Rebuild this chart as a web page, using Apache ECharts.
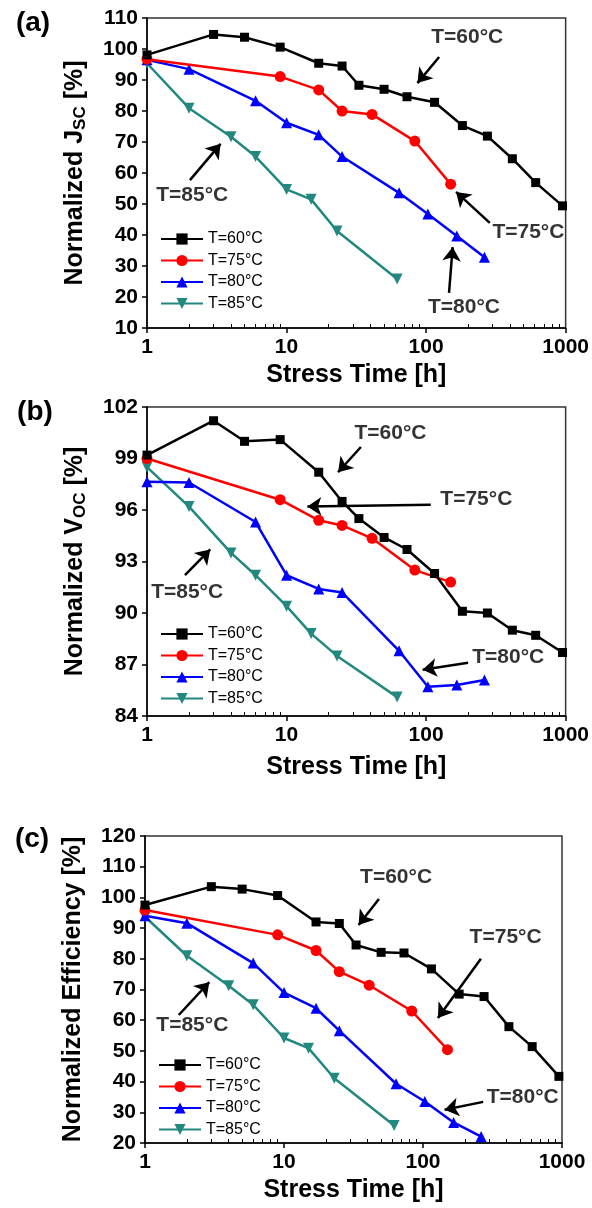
<!DOCTYPE html>
<html>
<head>
<meta charset="utf-8">
<script src="https://cdn.jsdelivr.net/npm/echarts@6.0.0/dist/echarts.min.js"></script>
<style>
html, body { margin: 0; padding: 0; background: #fff; }
#chart { width: 592px; height: 1208px; }
</style>
</head>
<body>
<div id="chart"></div>
<script>
// 测量时间 (h)
const t60 = [1, 3, 5, 9, 17, 25, 33, 50, 73, 115, 182, 275, 415, 610, 950];
const t75 = [1, 9, 17, 25, 41, 83, 150];
const t80 = [1, 2, 6, 10, 17, 25, 64, 103, 166, 262];
const t85 = [1, 2, 4, 6, 10, 15, 23, 62];

// (a) Jsc
const jsc60 = [98.1, 104.7, 103.8, 100.6, 95.4, 94.5, 88.3, 87, 84.6, 82.8, 75.3, 71.9, 64.6, 56.9, 49.4];
const jsc75 = [96.7, 91.1, 86.8, 80, 78.9, 70.3, 56.4];
const jsc80 = [96.5, 93.5, 83.3, 76.2, 72.3, 65.3, 53.6, 46.8, 39.7, 32.8];
const jsc85 = [95.4, 80.9, 71.7, 65.3, 54.7, 51.5, 41.3, 25.8];

// (b) Voc
const voc60 = [99.2, 101.2, 100.0, 100.1, 98.2, 96.5, 95.5, 94.4, 93.7, 92.3, 90.1, 90.0, 89.0, 88.7, 87.7];
const voc75 = [99.0, 96.6, 95.4, 95.1, 94.35, 92.5, 91.8];
const voc80 = [97.65, 97.6, 95.3, 92.2, 91.4, 91.2, 87.8, 85.7, 85.8, 86.1];
const voc85 = [98.5, 96.2, 93.5, 92.2, 90.4, 88.8, 87.5, 85.1];

// (c) Efficiency
const eff60 = [97.5, 103.5, 102.7, 100.6, 92.0, 91.5, 84.5, 82.1, 81.9, 76.7, 68.5, 67.7, 57.9, 51.4, 41.7];
const eff75 = [95.9, 87.8, 82.7, 75.8, 71.4, 63.0, 50.4];
const eff80 = [94.0, 91.6, 78.6, 69.0, 63.9, 56.6, 39.3, 33.5, 26.7, 22.1];
const eff85 = [93.7, 81.0, 71.2, 65.0, 54.2, 50.9, 41.1, 25.7];

const names = ['T=60°C', 'T=75°C', 'T=80°C', 'T=85°C'];
const xTickLabels = [1, 10, 100, 1000];
const minorTicks = [2, 3, 4, 5, 6, 7, 8, 9, 20, 30, 40, 50, 60, 70, 80, 90, 200, 300, 400, 500, 600, 700, 800, 900];

// 标注: 文字位置 + 箭头 (数据坐标)
const notesA = [
    { text: 'T=60°C', at: [197, 103.9], from: [124, 97.4], to: [86.7, 89.0] },
    { text: 'T=85°C', at: [2.11, 52.9], from: [2.03, 57.7], to: [3.37, 69.4] },
    { text: 'T=75°C', at: [541, 41], from: [286, 43.9], to: [164, 53.9] },
    { text: 'T=80°C', at: [187, 16.8], from: [146, 21.3], to: [155, 36.1] }
];
const notesB = [
    { text: 'T=60°C', at: [55.6, 100.5], from: [34.1, 99.67], to: [23.4, 98.2] },
    { text: 'T=75°C', at: [229, 96.6], from: [108, 96.3], to: [14.1, 96.2] },
    { text: 'T=85°C', at: [1.94, 91.2], from: [1.87, 92.2], to: [2.84, 93.7] },
    { text: 'T=80°C', at: [388, 87.4], from: [200, 87.1], to: [94.4, 86.7] }
];
const notesC = [
    { text: 'T=60°C', at: [64, 106.6], from: [48.2, 99.5], to: [34.4, 91.0] },
    { text: 'T=75°C', at: [393, 87.1], from: [261, 80], to: [128, 60.7] },
    { text: 'T=85°C', at: [2.19, 58.4], from: [1.75, 61.7], to: [2.9, 72.4] },
    { text: 'T=80°C', at: [522, 35], from: [271, 33.4], to: [143, 30.8] }
];

const FONT = '"Liberation Sans", Arial, sans-serif';
const colors = ['#000000', '#ff0000', '#0000ff', '#23887f'];
const symbols = ['rect', 'circle', 'triangle', 'triangle'];
const symbolSizes = [9, 11, 11, 11];
const symbolRotates = [0, 0, 0, 180];

const panels = [
    {
        times: [t60, t75, t80, t85], values: [jsc60, jsc75, jsc80, jsc85], notes: notesA,
        grid: { left: 147, right: 26, top: 18, height: 310 },
        yMin: 10, yMax: 110, yStep: 10, yName: '{t|Normalized J}{s|SC}{t| [%]}',
        legendTop: 225, legendLeft: 155, xNameGap: 35, tag: '(a)', tagPos: [33, 23]
    },
    {
        times: [t60, t75, t80, t85], values: [voc60, voc75, voc80, voc85], notes: notesB,
        grid: { left: 147, right: 26, top: 407, height: 309 },
        yMin: 84, yMax: 102, yStep: 3, yName: '{t|Normalized V}{s|OC}{t| [%]}',
        legendTop: 620, legendLeft: 155, xNameGap: 39, tag: '(b)', tagPos: [35, 412]
    },
    {
        times: [t60, t75, t80, t85], values: [eff60, eff75, eff80, eff85], notes: notesC,
        grid: { left: 145, right: 30, top: 836, height: 307 },
        yMin: 20, yMax: 120, yStep: 10, yName: '{t|Normalized Efficiency [%]}',
        legendTop: 1051, legendLeft: 153, xNameGap: 35, tag: '(c)', tagPos: [32, 839]
    }
];

const grids = [], xAxes = [], yAxes = [], series = [], legends = [], graphics = [];

panels.forEach((p, i) => {
    grids.push(Object.assign({ show: true, borderColor: '#333', borderWidth: 1.5 }, p.grid));

    // 主 x 轴 (对数)
    xAxes.push({
        gridIndex: i, type: 'log', logBase: 10, min: 1, max: 1000, position: 'bottom',
        name: 'Stress Time [h]', nameLocation: 'middle', nameGap: p.xNameGap,
        nameTextStyle: { fontSize: 25, fontWeight: 'bold', color: '#000', fontFamily: FONT },
        axisLine: { lineStyle: { color: '#000', width: 1.5 } },
        axisTick: { length: 5, lineStyle: { color: '#000', width: 1.5 } },
        axisLabel: {
            fontSize: 21, fontWeight: 'bold', color: '#000', fontFamily: FONT, margin: 9,
            customValues: xTickLabels, formatter: v => String(v)
        },
        splitLine: { show: false }
    });
    // 次刻度
    xAxes.push({
        gridIndex: i, type: 'log', logBase: 10, min: 1, max: 1000, position: 'bottom',
        axisLine: { show: false }, axisLabel: { show: false }, splitLine: { show: false },
        axisTick: { inside: true, length: 4, customValues: minorTicks, lineStyle: { color: '#000', width: 1 } }
    });

    yAxes.push({
        gridIndex: i, type: 'value', min: p.yMin, max: p.yMax, interval: p.yStep,
        name: p.yName, nameLocation: 'middle', nameGap: 58, nameRotate: 90,
        nameTextStyle: {
            color: '#000', fontFamily: FONT,
            rich: {
                t: { fontSize: 25, fontWeight: 'bold', color: '#000', fontFamily: FONT, lineHeight: 28 },
                s: { fontSize: 17, fontWeight: 'bold', color: '#000', fontFamily: FONT, verticalAlign: 'bottom', lineHeight: 14 }
            }
        },
        axisLine: { show: true, lineStyle: { color: '#000', width: 1.5 } },
        axisTick: { show: true, length: 5, lineStyle: { color: '#000', width: 1.5 } },
        axisLabel: { fontSize: 21, fontWeight: 'bold', color: '#000', fontFamily: FONT, margin: 9 },
        splitLine: { show: false }
    });

    names.forEach((n, k) => {
        series.push({
            name: n, type: 'line', xAxisIndex: 2 * i, yAxisIndex: i,
            data: p.times[k].map((t, j) => [t, p.values[k][j]]),
            symbol: symbols[k], symbolSize: symbolSizes[k], symbolRotate: symbolRotates[k],
            color: colors[k],
            lineStyle: { width: 2.5, color: colors[k] },
            itemStyle: { color: colors[k] },
            z: 5 - k, animation: false
        });
    });

    // 标注文字与箭头
    series.push({
        type: 'scatter', xAxisIndex: 2 * i, yAxisIndex: i, silent: true,
        symbolSize: 1, itemStyle: { color: 'transparent' },
        data: p.notes.map(a => ({ value: a.at, label: { formatter: a.text } })),
        label: { show: true, position: 'inside', fontSize: 21, fontWeight: 'bold', color: '#000', fontFamily: FONT },
        markLine: {
            silent: true, animation: false,
            symbol: ['none', 'arrow'], symbolSize: 14,
            lineStyle: { color: '#000', width: 2.5, type: 'solid' },
            itemStyle: { color: '#000' },
            label: { show: false },
            data: p.notes.map(a => [{ coord: a.from }, { coord: a.to }])
        },
        animation: false, z: 10
    });

    legends.push({
        orient: 'vertical', left: p.legendLeft, top: p.legendTop,
        itemWidth: 42, itemHeight: 14, itemGap: 3.5,
        textStyle: { fontSize: 16, color: '#000', fontFamily: FONT, lineHeight: 18 },
        data: names, selectedMode: false
    });

    graphics.push({
        type: 'text', x: p.tagPos[0], y: p.tagPos[1],
        style: { text: p.tag, font: 'bold 28px ' + FONT, fill: '#000', textAlign: 'center', textVerticalAlign: 'middle' }
    });
});

const chart = echarts.init(document.getElementById('chart'));
chart.setOption({
    backgroundColor: '#fff',
    animation: false,
    grid: grids,
    xAxis: xAxes,
    yAxis: yAxes,
    legend: legends,
    series: series,
    graphic: graphics
});
</script>
</body>
</html>
